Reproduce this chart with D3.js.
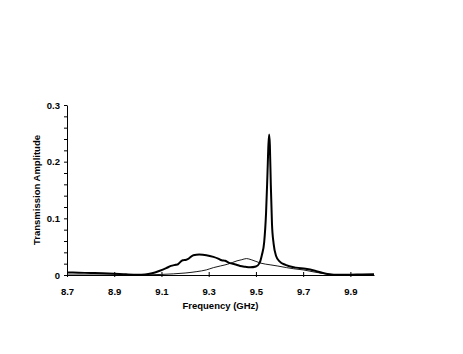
<!DOCTYPE html>
<html>
<head>
<meta charset="utf-8">
<script src="https://cdn.jsdelivr.net/npm/d3@7"></script>
<style>
  body { margin: 0; background: #fff; }
  text { font-family: "Liberation Sans", Arial, sans-serif; font-weight: bold; font-size: 9.5px; fill: #000; }
</style>
</head>
<body>
<svg id="chart"></svg>
<script>
// thick trace: frequency (GHz) and amplitude
const thickFreq = [8.70, 8.75, 8.80, 8.85, 8.90, 8.95, 9.00, 9.03, 9.06, 9.09, 9.12, 9.14, 9.16, 9.17, 9.18, 9.19,
  9.205, 9.215, 9.235, 9.26, 9.29, 9.32, 9.34, 9.355, 9.37, 9.39, 9.41, 9.433, 9.455, 9.475, 9.50, 9.515,
  9.525, 9.535, 9.543, 9.549, 9.553, 9.556, 9.559, 9.563, 9.568, 9.575, 9.585, 9.60, 9.625, 9.67, 9.71,
  9.75, 9.78, 9.81, 9.85, 9.90, 9.95, 10.0];
const thickAmp = [0.0045, 0.004, 0.0035, 0.003, 0.0022, 0.0012, 0.0006, 0.001, 0.003, 0.007, 0.012, 0.016, 0.018, 0.019, 0.023, 0.026,
  0.027, 0.029, 0.035, 0.036, 0.035, 0.032, 0.029, 0.026, 0.025, 0.021, 0.019, 0.016, 0.0145, 0.0135, 0.015, 0.021,
  0.035, 0.058, 0.11, 0.18, 0.23, 0.248, 0.23, 0.16, 0.09, 0.055, 0.034, 0.024, 0.018, 0.013, 0.011,
  0.0075, 0.004, 0.0015, 0.0004, 0.0005, 0.001, 0.0012];

// thin trace
const thinFreq = [8.70, 8.90, 9.00, 9.06, 9.10, 9.15, 9.20, 9.25, 9.29, 9.32, 9.35, 9.38, 9.40, 9.42, 9.44, 9.46,
  9.48, 9.50, 9.52, 9.56, 9.59, 9.63, 9.66, 9.70, 9.75, 9.78, 9.82, 9.87, 10.0];
const thinAmp = [0.0, 0.0, 0.0, 0.0005, 0.001, 0.002, 0.0035, 0.006, 0.009, 0.013, 0.016, 0.019, 0.022, 0.025, 0.027, 0.029,
  0.027, 0.024, 0.021, 0.018, 0.016, 0.013, 0.011, 0.009, 0.005, 0.003, 0.001, 0.0, 0.0];

const xTicks = [8.7, 8.9, 9.1, 9.3, 9.5, 9.7, 9.9];
const yTicks = [0, 0.1, 0.2, 0.3];
const yMinorTicks = [0.02, 0.04, 0.06, 0.08, 0.12, 0.14, 0.16, 0.18, 0.22, 0.24, 0.26, 0.28];

const W = 463, H = 354;
const margin = { top: 105, left: 67, right: 89, bottom: 79 };
const width = W - margin.left - margin.right;
const height = H - margin.top - margin.bottom;

const svg = d3.select("#chart").attr("width", W).attr("height", H);
const g = svg.append("g").attr("transform", `translate(${margin.left},${margin.top})`);

const x = d3.scaleLinear().domain([8.7, 10.0]).range([0, width]);
const y = d3.scaleLinear().domain([0, 0.3]).range([height, 0]);

// y axis minor ticks
g.append("g")
  .call(d3.axisLeft(y).tickValues(yMinorTicks).tickSize(3).tickFormat(""))
  .call((s) => s.select(".domain").remove());

const gy = g.append("g")
  .call(d3.axisLeft(y).tickValues(yTicks).tickSizeInner(3).tickSizeOuter(0).tickFormat((d) => d === 0 ? "0" : d3.format(".1f")(d)));
gy.selectAll("text").attr("x", -7).style("font-size", "9.5px");

const gx = g.append("g")
  .attr("transform", `translate(0,${height})`)
  .call(d3.axisBottom(x).tickValues(xTicks).tickSizeOuter(0).tickFormat(d3.format(".1f")));
gx.selectAll(".tick line").attr("y1", -3).attr("y2", 2);
gx.selectAll("text").attr("y", 13).style("font-size", "9.5px");

svg.selectAll(".domain, .tick line").attr("stroke", "#000").attr("stroke-width", 1);

const line = d3.line()
  .x((d) => x(d[0]))
  .y((d) => y(d[1]))
  .curve(d3.curveMonotoneX);

g.append("path")
  .datum(d3.zip(thinFreq, thinAmp))
  .attr("fill", "none")
  .attr("stroke", "#000")
  .attr("stroke-width", 0.9)
  .attr("d", line);

g.append("path")
  .datum(d3.zip(thickFreq, thickAmp))
  .attr("fill", "none")
  .attr("stroke", "#000")
  .attr("stroke-width", 2)
  .attr("stroke-linejoin", "round")
  .attr("d", line);

svg.append("text")
  .attr("x", margin.left + x(9.35))
  .attr("y", 309)
  .attr("text-anchor", "middle")
  .text("Frequency (GHz)");

svg.append("text")
  .attr("transform", "translate(40,190) rotate(-90)")
  .attr("text-anchor", "middle")
  .text("Transmission Amplitude");
</script>
</body>
</html>
